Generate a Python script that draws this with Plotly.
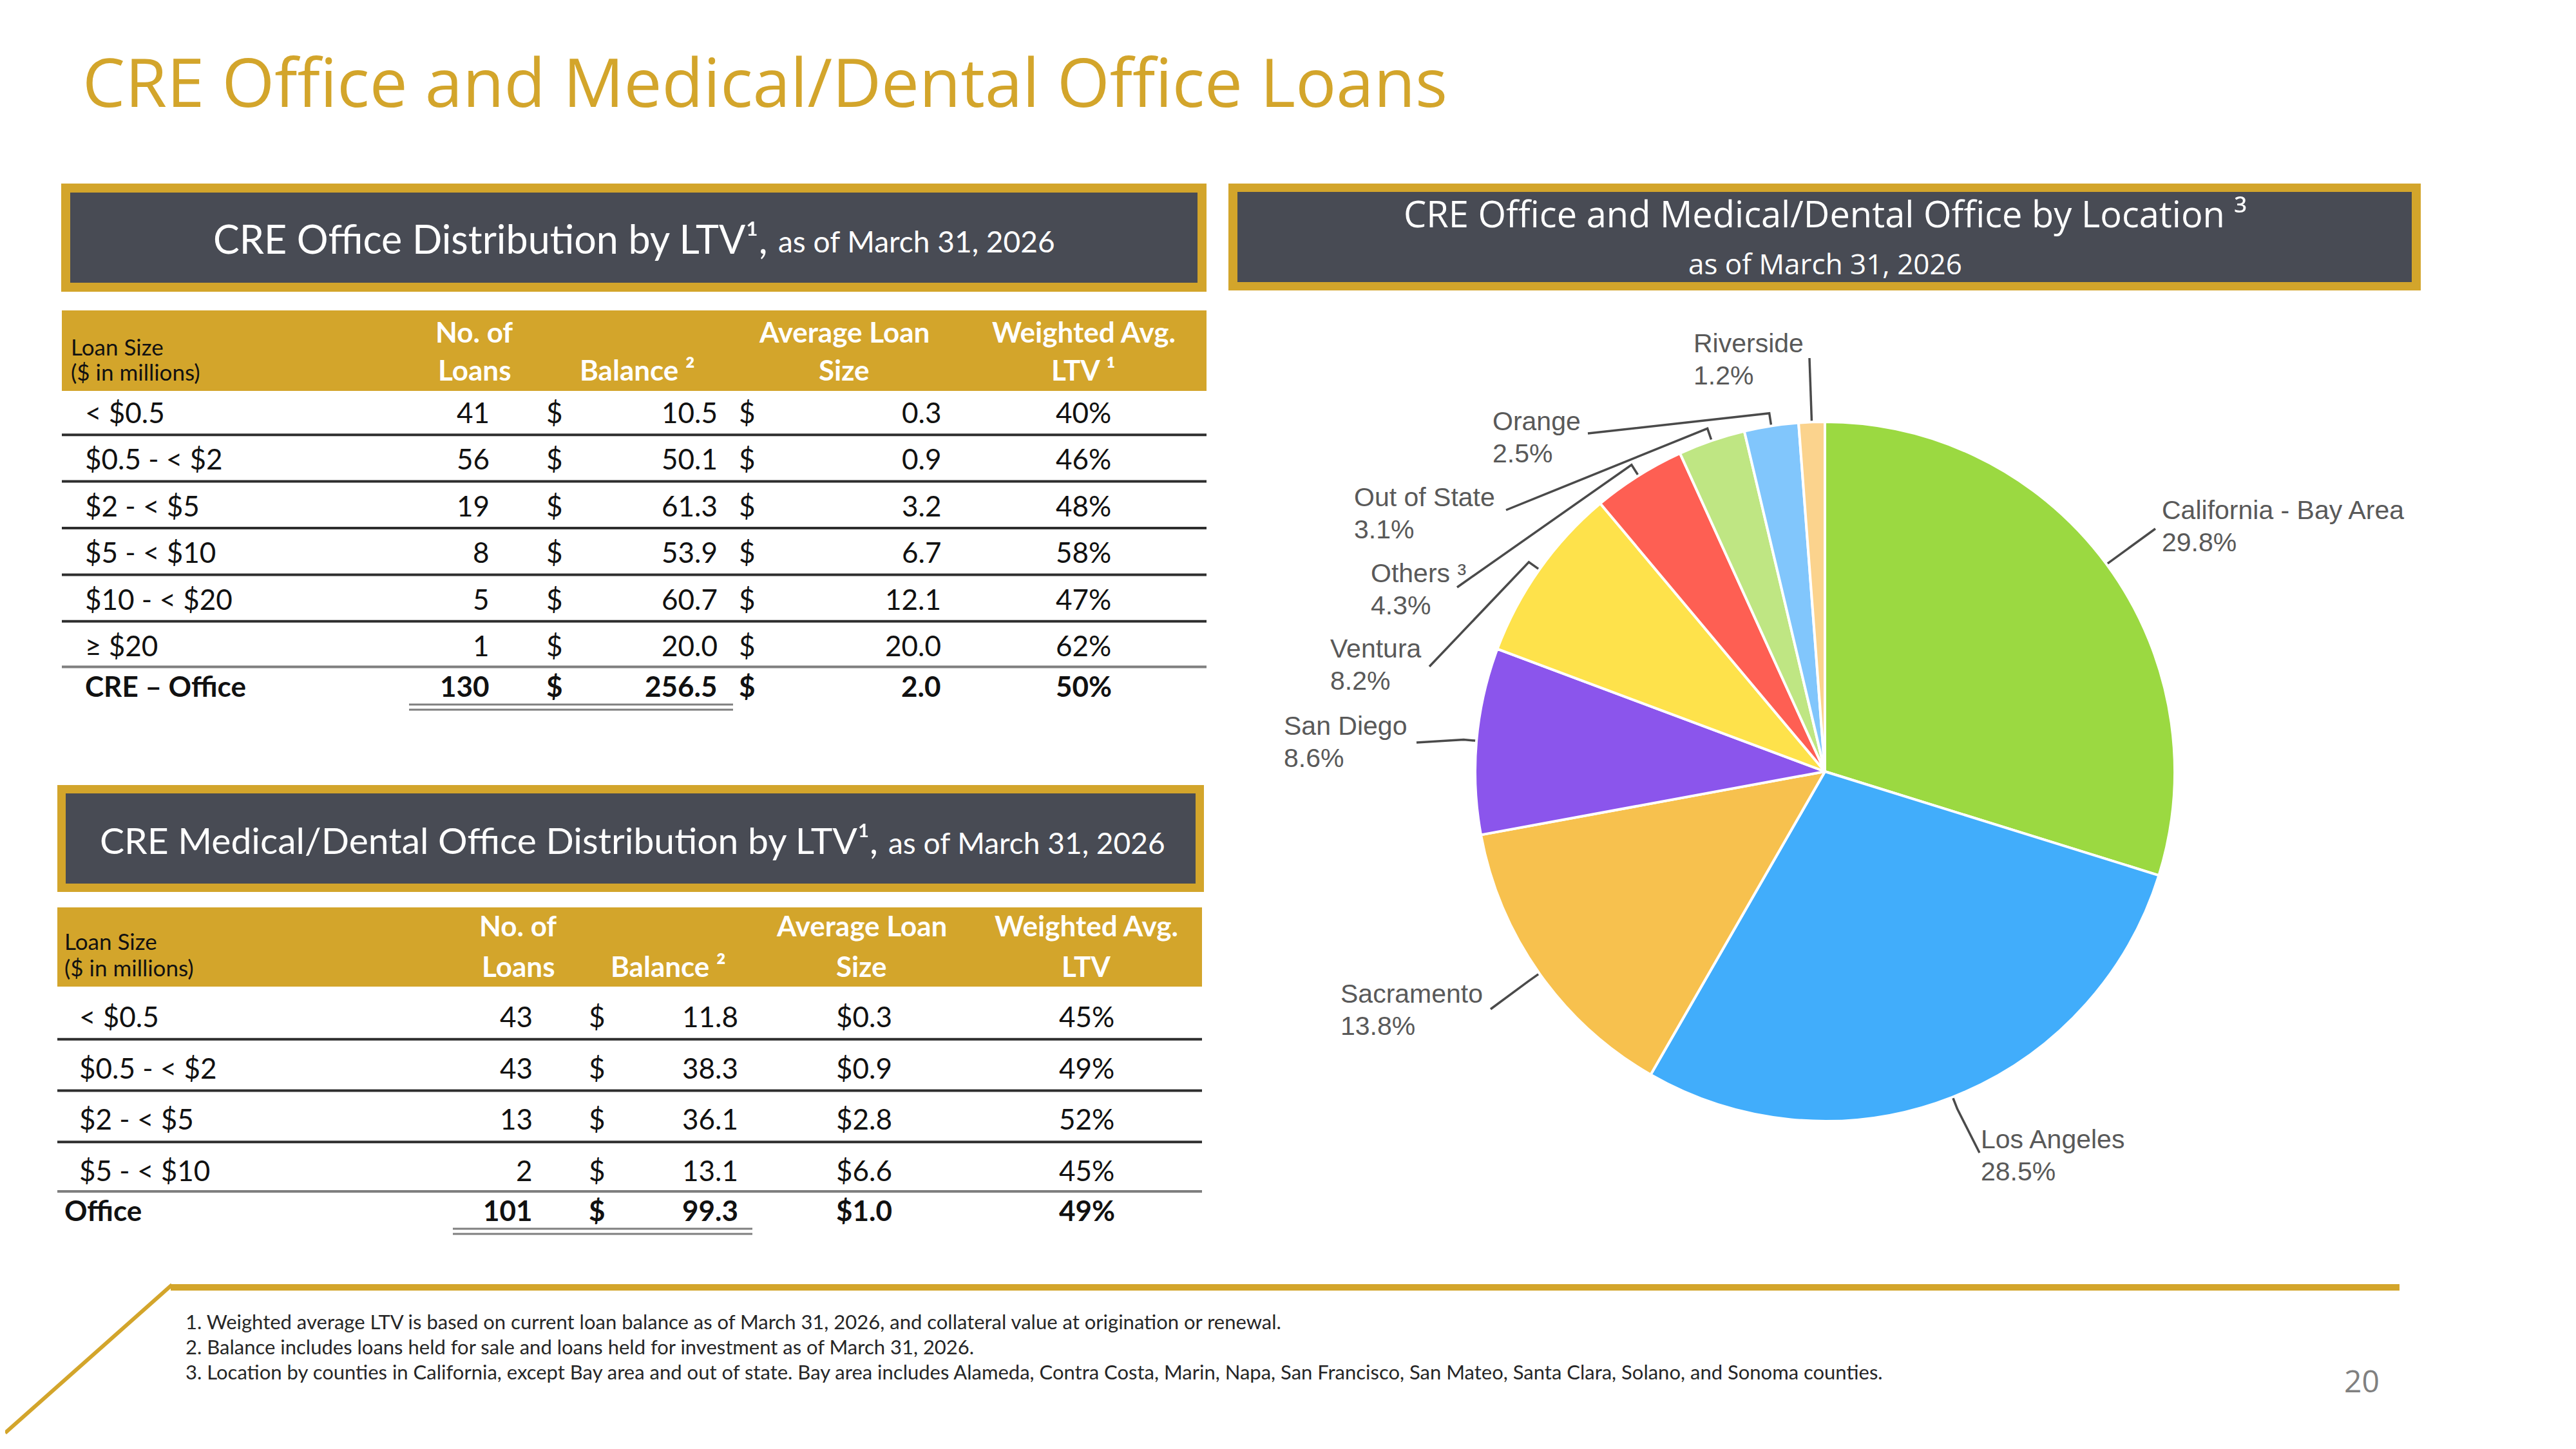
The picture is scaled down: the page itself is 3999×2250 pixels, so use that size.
import math
import plotly.graph_objects as go

# ---------------- DATA ----------------
title_text = "CRE Office and Medical/Dental Office Loans"

# Table 1: CRE Office distribution by LTV
t1_loan_size = ["< $0.5", "$0.5 - < $2", "$2 - < $5", "$5 - < $10", "$10 - < $20", "≥ $20", "CRE – Office"]
t1_num_loans = [41, 56, 19, 8, 5, 1, 130]
t1_balance = [10.5, 50.1, 61.3, 53.9, 60.7, 20.0, 256.5]
t1_avg_size = [0.3, 0.9, 3.2, 6.7, 12.1, 20.0, 2.0]
t1_ltv = [40, 46, 48, 58, 47, 62, 50]

# Table 2: CRE Medical/Dental Office distribution by LTV
t2_loan_size = ["< $0.5", "$0.5 - < $2", "$2 - < $5", "$5 - < $10", "Office"]
t2_num_loans = [43, 43, 13, 2, 101]
t2_balance = [11.8, 38.3, 36.1, 13.1, 99.3]
t2_avg_size = [0.3, 0.9, 2.8, 6.6, 1.0]
t2_ltv = [45, 49, 52, 45, 49]

# Pie: by location
locations = ["California - Bay Area", "Los Angeles", "Sacramento", "San Diego", "Ventura",
             "Others", "Out of State", "Orange", "Riverside"]
location_share = [29.8, 28.5, 13.8, 8.6, 8.2, 4.3, 3.1, 2.5, 1.2]

footnotes = [
    "1. Weighted average LTV is based on current loan balance as of March 31, 2026, and collateral value at origination or renewal.",
    "2. Balance includes loans held for sale and loans held for investment as of March 31, 2026.",
    "3. Location by counties in California, except Bay area and out of state. Bay area includes Alameda, Contra Costa, Marin, Napa, San Francisco, San Mateo, Santa Clara, Solano, and Sonoma counties.",
]
page_number = "20"

# ---------------- STYLE ----------------
W, H = 3999, 2250          # target page size (screen pixels)
OFF = 8                    # default body margin of the html page
FW, FH = W - 2 * OFF, H - 2 * OFF
GOLD = "#D3A52B"
DARK = "#484B54"
TXT = "#111111"
TABLE_FONT = "Lato, Carlito, Calibri, sans-serif"
HEAD_FONT = "Open Sans, Segoe UI, sans-serif"
PIE_FONT = "Liberation Sans, Arial, sans-serif"
pie_colors = ["#9BD941", "#41ADFB", "#F7C14E", "#8B55EC", "#FEE24B",
              "#FE5F53", "#BFE683", "#81C6FC", "#FBD38D"]

fig = go.Figure()
ann = []
shapes = []


def text(x, y, s, size, color=TXT, family=TABLE_FONT, xanchor="center", weight="normal", yanchor="middle"):
    ann.append(dict(x=x, y=y, xref="x", yref="y", text=s, showarrow=False,
                    xanchor=xanchor, yanchor=yanchor,
                    font=dict(size=size, color=color, family=family, weight=weight)))


def rect(x0, y0, x1, y1, color):
    shapes.append(dict(type="rect", xref="x", yref="y", x0=x0, y0=y0, x1=x1, y1=y1,
                       fillcolor=color, line=dict(width=0), layer="below"))


def hline(x0, x1, y, color, width):
    shapes.append(dict(type="line", xref="x", yref="y", x0=x0, x1=x1, y0=y, y1=y,
                       line=dict(color=color, width=width)))


# ---------------- Title ----------------
text(126, 125, title_text, 105, color=GOLD, family=HEAD_FONT, xanchor="left")

# ---------------- Section header boxes ----------------
def header_box(outer, border, main_x, cy, main, main_size, sub_x, sub):
    x0, y0, x1, y1 = outer
    rect(x0, y0, x1, y1, GOLD)
    rect(x0 + border, y0 + border, x1 - border, y1 - border, DARK)
    text(main_x, cy, main, main_size, color="white", xanchor="right")
    text(sub_x, cy + 4, sub, 46, color="white", xanchor="left")


header_box((95, 285, 1873, 453), 14, 1194, 370, "CRE Office Distribution by LTV¹,", 61,
           1206, "as of March 31, 2026")
header_box((89, 1219, 1869, 1385), 13, 1365, 1304, "CRE Medical/Dental Office Distribution by LTV¹,", 57,
           1377, "as of March 31, 2026")

# right box (location)
rect(1907, 285, 3758, 451, GOLD)
rect(1921, 298, 3744, 438, DARK)
text(2833, 331, "CRE Office and Medical/Dental Office by Location ³", 56, color="white", family=HEAD_FONT)
text(2833, 409, "as of March 31, 2026", 44, color="white", family=HEAD_FONT)

# ---------------- Tables ----------------
def draw_table(cfg, labels, counts, bal, avg, ltv, avg_mode, ltv_head):
    x0, x1 = cfg["x0"], cfg["x1"]
    rect(x0, cfg["band"][0], x1, cfg["band"][1], GOLD)
    h1, h2 = cfg["head_y"]
    text(cfg["head_label_x"], cfg["ls_y"][0], "Loan Size", 35, xanchor="left")
    text(cfg["head_label_x"], cfg["ls_y"][1], "($ in millions)", 35, xanchor="left")
    hs = dict(size=44, color="white", weight="bold")
    text(cfg["hc"][0], h1, "No. of", **hs)
    text(cfg["hc"][0], h2, "Loans", **hs)
    text(cfg["hc"][1], h2, "Balance ²", **hs)
    text(cfg["hc"][2], h1, "Average Loan", **hs)
    text(cfg["hc"][2], h2, "Size", **hs)
    text(cfg["hc"][3], h1, "Weighted Avg.", **hs)
    text(cfg["hc"][3], h2, ltv_head, **hs)

    n = len(labels)
    ys = [cfg["first_y"] + i * cfg["row_h"] for i in range(n - 1)]
    ys.append(ys[-1] + cfg["total_gap"])
    for i in range(n):
        total = i == n - 1
        w = "bold" if total else "normal"
        y = ys[i]
        lx = cfg["total_label_x"] if total else cfg["label_x"]
        text(lx, y, labels[i], 44, xanchor="left", weight=w)
        text(cfg["cnt_r"], y, f"{counts[i]}", 44, xanchor="right", weight=w)
        text(cfg["d1"], y, "$", 44, weight=w)
        text(cfg["bal_r"], y, f"{bal[i]:.1f}", 44, xanchor="right", weight=w)
        if avg_mode == "split":
            text(cfg["d2"], y, "$", 44, weight=w)
            text(cfg["avg_r"], y, f"{avg[i]:.1f}", 44, xanchor="right", weight=w)
        else:
            text(cfg["avg_c"], y, f"${avg[i]:.1f}", 44, weight=w)
        text(cfg["ltv_c"], y, f"{ltv[i]}%", 44, weight=w)
        if i < n - 2:
            hline(x0, x1, (ys[i] + ys[i + 1]) / 2 + cfg["sep_dy"], "#2E2E2E", 4)
        elif i == n - 2:
            hline(x0, x1, (ys[i] + ys[i + 1]) / 2 + 2, "#7F7F7F", 4)
    u0, u1 = cfg["uline"]
    hline(u0, u1, ys[-1] + 29, "#7F7F7F", 3)
    hline(u0, u1, ys[-1] + 37, "#7F7F7F", 3)


T1 = dict(x0=96, x1=1873, band=(482, 607), head_y=(515, 574), ls_y=(538, 577), head_label_x=108,
          hc=(736, 989, 1310, 1682), first_y=640, row_h=72.4, total_gap=63, sep_dy=-1,
          label_x=130, total_label_x=130, cnt_r=762, d1=861, bal_r=1116, d2=1160, avg_r=1463,
          ltv_c=1682, uline=(635, 1138))
T2 = dict(x0=89, x1=1866, band=(1409, 1532), head_y=(1437, 1500), ls_y=(1461, 1502), head_label_x=98,
          hc=(804, 1037, 1337, 1686), first_y=1578, row_h=79.7, total_gap=62, sep_dy=-4,
          label_x=121, total_label_x=98, cnt_r=829, d1=927, bal_r=1148, avg_c=1341,
          ltv_c=1687, uline=(703, 1168))

draw_table(T1, t1_loan_size, t1_num_loans, t1_balance, t1_avg_size, t1_ltv, "split", "LTV ¹")
draw_table(T2, t2_loan_size, t2_num_loans, t2_balance, t2_avg_size, t2_ltv, "single", "LTV")

# ---------------- Pie ----------------
PCX, PCY, PR = 2833, 1198, 543
px0, px1 = (PCX - PR - OFF) / FW, (PCX + PR - OFF) / FW
py0, py1 = 1 - (PCY + PR - OFF) / FH, 1 - (PCY - PR - OFF) / FH
fig.add_trace(go.Pie(
    labels=locations, values=location_share, sort=False, direction="clockwise", rotation=0,
    textinfo="none", hoverinfo="label+percent", showlegend=False,
    marker=dict(colors=pie_colors, line=dict(color="white", width=4)),
    domain=dict(x=[px0, px1], y=[py0, py1]),
))

# label placement (layout): text left x, first-line y, leader end point
pie_label_layout = {
    "California - Bay Area": dict(tx=3354, ty=792, end=(3346, 821)),
    "Los Angeles": dict(tx=3073, ty=1769, end=(3073, 1790)),
    "Sacramento": dict(tx=2079, ty=1543, end=(2314, 1567)),
    "San Diego": dict(tx=1991, ty=1127, end=(2199, 1153)),
    "Ventura": dict(tx=2063, ty=1007, end=(2219, 1035)),
    "Others": dict(tx=2126, ty=890, end=(2262, 912)),
    "Out of State": dict(tx=2100, ty=772, end=(2338, 792)),
    "Orange": dict(tx=2315, ty=654, end=(2465, 673)),
    "Riverside": dict(tx=2627, ty=533, end=(2809, 556)),
}
total = sum(location_share)
lx, ly = [], []
cum = 0.0
for name, v in zip(locations, location_share):
    mid = (cum + v / 2) / total * 2 * math.pi
    cum += v
    sx, sy = PCX + PR * math.sin(mid), PCY - PR * math.cos(mid)
    kx, ky = PCX + (PR + 20) * math.sin(mid), PCY - (PR + 20) * math.cos(mid)
    L = pie_label_layout[name]
    ex, ey = L["end"]
    lx += [sx, kx, ex, None]
    ly += [sy, ky, ey, None]
    nm = "Others ³" if name == "Others" else name
    text(L["tx"], L["ty"], nm, 41, color="#595959", family=PIE_FONT, xanchor="left")
    text(L["tx"], L["ty"] + 50, f"{v:.1f}%", 41, color="#595959", family=PIE_FONT, xanchor="left")

fig.add_trace(go.Scatter(x=lx, y=ly, mode="lines", line=dict(color="#4A4A4A", width=3.5),
                         hoverinfo="skip", showlegend=False, cliponaxis=False))

# ---------------- Footer ----------------
shapes.append(dict(type="line", xref="x", yref="y", x0=265, x1=3725, y0=1999, y1=1999,
                   line=dict(color=GOLD, width=10)))
shapes.append(dict(type="line", xref="x", yref="y", x0=267, x1=OFF, y0=1995, y1=2225,
                   line=dict(color=GOLD, width=6)))
for i, fn in enumerate(footnotes):
    text(286, 2052 + i * 39, fn, 31, color="#262626", xanchor="left")
text(3666, 2143, page_number, 48, color="#808080", family=HEAD_FONT)

fig.update_layout(
    width=FW, height=FH, autosize=False,
    margin=dict(l=0, r=0, t=0, b=0),
    paper_bgcolor="white", plot_bgcolor="white",
    xaxis=dict(range=[OFF, OFF + FW], domain=[0, 1], visible=False, fixedrange=True),
    yaxis=dict(range=[OFF + FH, OFF], domain=[0, 1], visible=False, fixedrange=True),
    annotations=ann, shapes=shapes,
)

fig.write_html("out.html", config={"displayModeBar": False})
